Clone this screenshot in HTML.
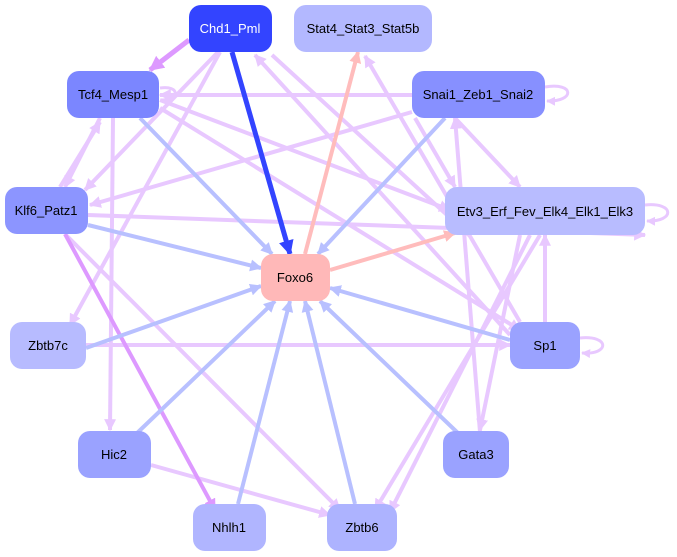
<!DOCTYPE html>
<html><head><meta charset="utf-8"><style>
html,body{margin:0;padding:0;background:#fff;}
svg{display:block;font-family:"Liberation Sans",sans-serif;}
</style></head><body>
<svg width="677" height="557" viewBox="0 0 677 557">
<defs>
<marker id="l" viewBox="0 0 10 10" refX="9" refY="5" markerWidth="3" markerHeight="3" orient="auto"><path d="M0,0L10,5L0,10z" fill="#e8c8ff"/></marker>
<marker id="b" viewBox="0 0 10 10" refX="9" refY="5" markerWidth="3" markerHeight="3" orient="auto"><path d="M0,0L10,5L0,10z" fill="#b8c0ff"/></marker>
<marker id="p" viewBox="0 0 10 10" refX="9" refY="5" markerWidth="3" markerHeight="3" orient="auto"><path d="M0,0L10,5L0,10z" fill="#ffbcbc"/></marker>
<marker id="d" viewBox="0 0 10 10" refX="9" refY="5" markerWidth="3" markerHeight="3" orient="auto"><path d="M0,0L10,5L0,10z" fill="#3344ff"/></marker>
<marker id="m" viewBox="0 0 10 10" refX="9" refY="5" markerWidth="3" markerHeight="3" orient="auto"><path d="M0,0L10,5L0,10z" fill="#dd99ff"/></marker>
</defs>
<g fill="none" stroke-width="4">
<g stroke="#e8c8ff" marker-end="url(#l)">
<path d="M218,52 L85,190"/>
<path d="M220,52 L70,325"/>
<path d="M272,55 L470,236"/>
<path d="M412,95 L160,95"/>
<path d="M412,112 L90,205"/>
<path d="M455,118 L520,187"/>
<path d="M415,118 L455,187"/>
<path d="M160,100 L450,210"/>
<path d="M160,108 L520,330"/>
<path d="M100,118 L65,187"/>
<path d="M60,187 L100,122"/>
<path d="M113,118 L110,430"/>
<path d="M88,215 L645,235"/>
<path d="M65,234 L340,510"/>
<path d="M510,335 L255,55"/>
<path d="M520,322 L365,56"/>
<path d="M545,322 L545,235"/>
<path d="M86,345 L510,345"/>
<path d="M151,465 L330,515"/>
<path d="M540,235 L375,510"/>
<path d="M520,235 L480,430"/>
<path d="M530,235 L390,512"/>
<path d="M480,432 L455,118"/>
</g>
<g stroke="#e8c8ff" stroke-width="3" marker-end="url(#l)">
<path d="M545,87 C575,82 575,102 547,101"/>
<path d="M645,205 C675,202 675,222 647,221"/>
<path d="M580,338 C610,335 610,355 582,353"/>
<path d="M160,88 C180,85 180,100 162,100"/>
</g>
<path d="M65,234 L215,510" stroke="#dd99ff" marker-end="url(#m)"/>
<path d="M189,40 L150,70" stroke="#dd99ff" stroke-width="5" marker-end="url(#m)"/>
<g stroke="#b8c0ff" marker-end="url(#b)">
<path d="M140,118 L272,254"/>
<path d="M88,225 L261,268"/>
<path d="M86,348 L261,286"/>
<path d="M135,435 L275,301"/>
<path d="M238,504 L290,301"/>
<path d="M355,504 L305,301"/>
<path d="M460,435 L320,301"/>
<path d="M510,340 L330,288"/>
<path d="M445,118 L318,254"/>
</g>
<path d="M232,52 L290,254" stroke="#3344ff" stroke-width="5" marker-end="url(#d)"/>
<g stroke="#ffbcbc" marker-end="url(#p)">
<path d="M305,254 L358,52"/>
<path d="M330,270 L455,233"/>
</g>
</g>
<g font-size="13" text-anchor="middle">
<rect x="189" y="5" width="83" height="47" rx="12" fill="#3344ff"/><text x="230" y="33" fill="#fff">Chd1_Pml</text>
<rect x="294" y="5" width="138" height="47" rx="12" fill="#b3b8ff"/><text x="363" y="33">Stat4_Stat3_Stat5b</text>
<rect x="67" y="71" width="92" height="47" rx="12" fill="#7b86ff"/><text x="113" y="99">Tcf4_Mesp1</text>
<rect x="412" y="71" width="133" height="47" rx="12" fill="#8790ff"/><text x="478" y="99">Snai1_Zeb1_Snai2</text>
<rect x="5" y="187" width="83" height="47" rx="12" fill="#8c95ff"/><text x="46" y="215">Klf6_Patz1</text>
<rect x="445" y="187" width="200" height="48" rx="12" fill="#b8bcff"/><text x="545" y="216">Etv3_Erf_Fev_Elk4_Elk1_Elk3</text>
<rect x="261" y="254" width="69" height="47" rx="12" fill="#ffb8b8"/><text x="295" y="282">Foxo6</text>
<rect x="10" y="322" width="76" height="47" rx="12" fill="#b7bbff"/><text x="48" y="350">Zbtb7c</text>
<rect x="510" y="322" width="70" height="47" rx="12" fill="#9aa2ff"/><text x="545" y="350">Sp1</text>
<rect x="78" y="431" width="73" height="47" rx="12" fill="#9aa2ff"/><text x="114" y="459">Hic2</text>
<rect x="443" y="431" width="66" height="47" rx="12" fill="#9aa2ff"/><text x="476" y="459">Gata3</text>
<rect x="193" y="504" width="73" height="47" rx="12" fill="#b0b5ff"/><text x="229" y="532">Nhlh1</text>
<rect x="327" y="504" width="70" height="47" rx="12" fill="#adb3ff"/><text x="362" y="532">Zbtb6</text>
</g>
</svg>
</body></html>
